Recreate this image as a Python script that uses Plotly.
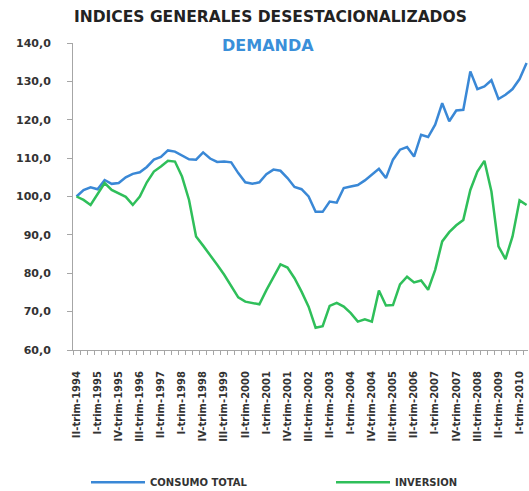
import plotly.graph_objects as go

# Quarterly index values, II-trim-1994 .. II-trim-2010 (base 100)
consumo_total = [100.0, 101.7, 102.4, 101.9, 104.3, 103.3, 103.5, 105.0, 105.9, 106.3,
                 107.7, 109.6, 110.3, 112.0, 111.7, 110.6, 109.7, 109.6, 111.5, 109.9,
                 109.0, 109.1, 108.9, 106.1, 103.7, 103.3, 103.7, 105.8, 107.0, 106.7,
                 104.8, 102.5, 101.9, 100.0, 96.0, 96.0, 98.7, 98.4, 102.2, 102.6,
                 103.0, 104.2, 105.7, 107.2, 104.8, 109.6, 112.2, 112.9, 110.4, 116.1,
                 115.5, 118.7, 124.3, 119.6, 122.4, 122.6, 132.6, 128.0, 128.7, 130.3,
                 125.4, 126.5, 128.0, 130.6, 134.8]
inversion = [100.0, 99.1, 97.8, 100.7, 103.5, 101.7, 100.9, 99.9, 97.8, 100.0,
             103.7, 106.5, 107.8, 109.3, 109.1, 105.2, 99.1, 89.6, 87.2, 84.8,
             82.2, 79.6, 76.8, 73.7, 72.6, 72.2, 71.9, 75.6, 79.1, 82.3,
             81.5, 78.7, 75.2, 71.3, 65.8, 66.2, 71.5, 72.3, 71.3, 69.6,
             67.4, 68.0, 67.4, 75.5, 71.6, 71.7, 77.1, 79.1, 77.6, 78.1,
             75.7, 80.9, 88.3, 90.7, 92.5, 93.9, 101.7, 106.5, 109.3, 101.3,
             87.0, 83.7, 89.6, 99.0, 97.8]

tick_labels = ["II-trim-1994", "I-trim-1995", "IV-trim-1995", "III-trim-1996",
               "II-trim-1997", "I-trim-1998", "IV-trim-1998", "III-trim-1999",
               "II-trim-2000", "I-trim-2001", "IV-trim-2001", "III-trim-2002",
               "II-trim-2003", "I-trim-2004", "IV-trim-2004", "III-trim-2005",
               "II-trim-2006", "I-trim-2007", "IV-trim-2007", "III-trim-2008",
               "II-trim-2009", "I-trim-2010"]
tick_step = 3

x_idx = list(range(len(consumo_total)))
tick_pos = [k * tick_step for k in range(len(tick_labels))]

BLUE = "#3A88D6"
GREEN = "#2FBF5A"
AXIS = "#A6A6A6"
FONT = "DejaVu Sans"

fig = go.Figure()
fig.add_trace(go.Scatter(x=x_idx, y=consumo_total, mode="lines", name="CONSUMO TOTAL",
                         line=dict(color=BLUE, width=2.5), legend="legend"))
fig.add_trace(go.Scatter(x=x_idx, y=inversion, mode="lines", name="INVERSION",
                         line=dict(color=GREEN, width=2.5), legend="legend2"))

leg_common = dict(orientation="h", xref="container", yref="container",
                  y=0.018, xanchor="left", yanchor="middle", itemwidth=54,
                  font=dict(family=FONT, size=10, weight="bold", color="#333333"),
                  bgcolor="rgba(0,0,0,0)")

fig.update_layout(
    width=529, height=491,
    margin=dict(l=73, r=1, t=43, b=141),
    paper_bgcolor="white", plot_bgcolor="white",
    separators=",.",
    font=dict(family=FONT, color="#333333"),
    showlegend=True,
    legend=dict(x=86 / 529, **leg_common),
    legend2=dict(x=331 / 529, **leg_common),
    annotations=[
        dict(text="INDICES GENERALES DESESTACIONALIZADOS", xref="paper", yref="paper",
             x=(270 - 73) / 455, y=(350 - 17) / 307, xanchor="center", yanchor="middle",
             showarrow=False, font=dict(family=FONT, size=15.5, weight="bold", color="#222222")),
        dict(text="DEMANDA", xref="paper", yref="paper",
             x=(268 - 73) / 455, y=(350 - 45) / 307, xanchor="center", yanchor="middle",
             showarrow=False, font=dict(family=FONT, size=16, weight="bold", color="#3A8FD9")),
    ],
)

fig.update_xaxes(
    range=[-0.5, 64.2], showgrid=False, zeroline=False, automargin=False,
    showline=True, linecolor=AXIS, linewidth=1,
    tickmode="array", tickvals=tick_pos, ticktext=tick_labels, tickangle=-90,
    ticks="outside", ticklen=4, tickcolor="rgba(0,0,0,0)",
    ticklabelstandoff=12,
    tickfont=dict(family=FONT, size=10, weight="bold", color="#333333"),
    minor=dict(tick0=-0.5, dtick=1, ticks="outside", ticklen=4, tickcolor=AXIS, showgrid=False),
)
fig.update_yaxes(
    range=[60, 140], dtick=10, tickformat=".1f", showgrid=False, zeroline=False,
    automargin=False,
    showline=True, linecolor=AXIS, linewidth=1,
    ticks="outside", ticklen=5, tickcolor=AXIS,
    ticklabelstandoff=14,
    tickfont=dict(family=FONT, size=11, weight="bold", color="#333333"),
)

fig.write_html("out.html", config={"displayModeBar": False},
               post_script="document.body.style.margin='0px';document.body.style.overflow='hidden';")
